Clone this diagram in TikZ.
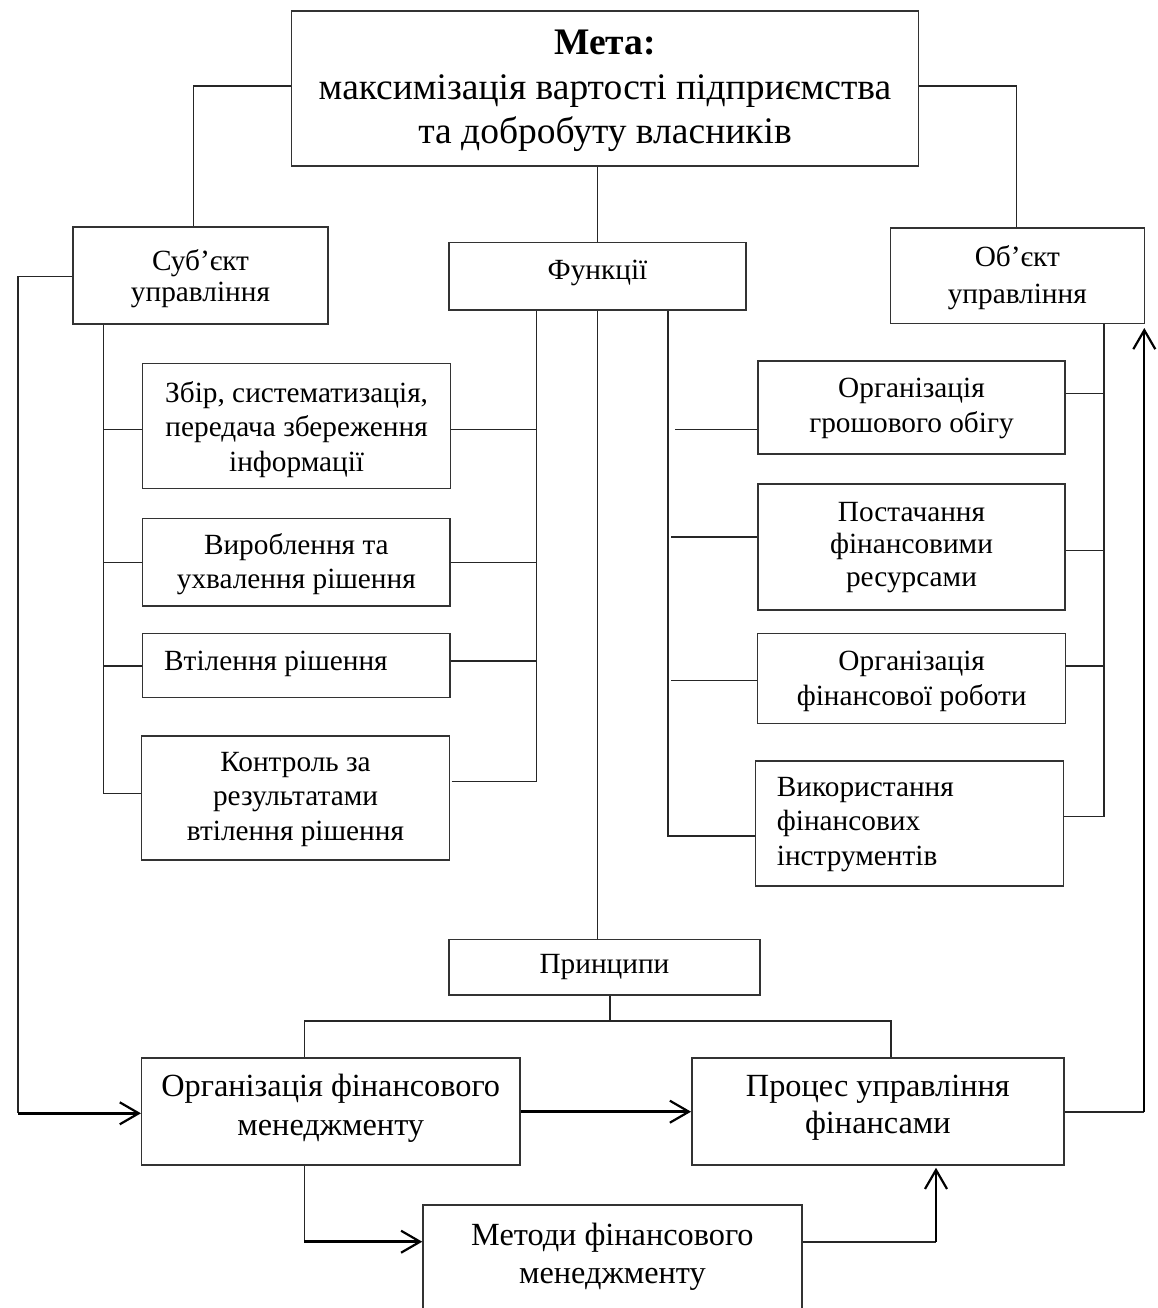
\documentclass[tikz,border=0pt]{standalone}
\usepackage{fontspec}
\setmainfont{Liberation Serif}
\usetikzlibrary{arrows.meta}
\newcommand\fz[2]{\fontsize{#1}{#2}\selectfont}
\begin{document}
\begin{tikzpicture}[x=1pt,y=-1pt,
  box/.style={draw=black!80, line width=1.5pt, inner sep=0pt},
  txt/.style={anchor=base, align=center, inner sep=0pt},
  txtl/.style={anchor=base west, align=left, inner sep=0pt},
  conn/.style={draw=black!85, line width=1.3pt},
  tip/.style={-{Straight Barb[length=19pt,width=22pt,line width=2.2pt]}},
  arr/.style={draw=black, line width=2.6pt, tip},
  arrthin/.style={draw=black, line width=2pt, tip}
]
\useasboundingbox (0,0) rectangle (1157,1308);
% ---------- boxes
\node[box,minimum width=626.6pt,minimum height=155pt] (meta) at (605,88.5) {};
\node[box,minimum width=255pt,minimum height=97pt] (subj) at (200.5,275.5) {};
\node[box,minimum width=297pt,minimum height=67.3pt] (func) at (597.5,276.35) {};
\node[box,minimum width=254pt,minimum height=95.3pt] (obj) at (1017.3,275.65) {};
\node[box,minimum width=307.8pt,minimum height=125pt] (zbir) at (296.6,425.8) {};
\node[box,minimum width=307.3pt,minimum height=87.7pt] (vyr) at (296.35,562.15) {};
\node[box,minimum width=307.3pt,minimum height=64.4pt] (vtil) at (296.35,665.5) {};
\node[box,minimum width=307.6pt,minimum height=124pt] (kontr) at (295.5,798) {};
\node[box,minimum width=307pt,minimum height=93pt] (grosh) at (911.5,407.5) {};
\node[box,minimum width=307pt,minimum height=126pt] (post) at (911.5,547) {};
\node[box,minimum width=308pt,minimum height=90pt] (orgfr) at (911.7,678.3) {};
\node[box,minimum width=307.6pt,minimum height=125pt] (vyk) at (909.5,823.5) {};
\node[box,minimum width=311pt,minimum height=55.7pt] (princ) at (604.5,967.15) {};
\node[box,minimum width=378.1pt,minimum height=107pt] (orgfm) at (330.75,1111.5) {};
\node[box,minimum width=372.1pt,minimum height=107pt] (proc) at (877.85,1111.5) {};
\node[box,minimum width=378.8pt,minimum height=120pt] (metody) at (612.4,1265) {};
% ---------- texts (anchored at the baseline of the last line)
\node[txt,font=\fz{37.5}{44.5}] (meta-t) at (605,144)
  {\textbf{Мета:}\\максимізація вартості підприємства\\та добробуту власників};
\node[txt,font=\fz{29.3}{31.7}] (subj-t) at (200.5,301.7) {Суб’єкт\\управління};
\node[txt,font=\fz{29.3}{36.6}] (obj-t) at (1017.3,303.3) {Об’єкт\\управління};
\node[txt,font=\fz{29.3}{34}] (func-t) at (597.5,279.3) {Функції};
\node[txt,font=\fz{29.3}{34.8}] (zbir-t) at (296.6,471.7) {Збір, систематизація,\\передача збереження\\інформації};
\node[txt,font=\fz{29.3}{34.3}] (vyr-t) at (296.35,588.3) {Вироблення та\\ухвалення рішення};
\node[txtl,font=\fz{29.3}{34}] (vtil-t) at (164,670.7) {Втілення рішення};
\node[txt,font=\fz{29.3}{34.2}] (kontr-t) at (295.5,840) {Контроль за\\результатами\\втілення рішення};
\node[txt,font=\fz{29.3}{34.5}] (grosh-t) at (911.5,432) {Організація\\грошового обігу};
\node[txt,font=\fz{29.3}{32.9}] (post-t) at (911.5,586.8) {Постачання\\фінансовими\\ресурсами};
\node[txt,font=\fz{29.3}{34.3}] (orgfr-t) at (911.7,705) {Організація\\фінансової роботи};
\node[txtl,font=\fz{29.3}{34.2}] (vyk-t) at (776.7,865) {Використання\\фінансових\\інструментів};
\node[txt,font=\fz{29.3}{34}] (princ-t) at (604.5,973) {Принципи};
\node[txt,font=\fz{32.3}{38.3}] (orgfm-t) at (330.75,1135) {Організація фінансового\\менеджменту};
\node[txt,font=\fz{32.3}{36.3}] (proc-t) at (877.85,1133) {Процес управління\\фінансами};
\node[txt,font=\fz{32.3}{38}] (metody-t) at (612.4,1283) {Методи фінансового\\менеджменту};
% ---------- top connectors
\draw[conn] (meta.west |- 0,86) -| (subj.north -| 193.3,0);
\draw[conn] (meta.east |- 0,86) -| (obj.north -| 1016.7,0);
\draw[conn] (meta.south -| 597.7,0) -- (func.north -| 597.7,0);
% ---------- subject branch
\coordinate (lb) at (103.3,793.3);
\draw[conn] (subj.south -| lb) -- (lb);
\draw[conn] (103.3,429.3) -- (zbir.west |- 0,429.3);
\draw[conn] (103.3,562.7) -- (vyr.west |- 0,562.7);
\draw[conn] (103.3,666) -- (vtil.west |- 0,666);
\draw[conn] (lb) -- (kontr.west |- lb);
% ---------- functions, left
\coordinate (fl) at (536.7,781.7);
\draw[conn] (func.south -| fl) -- (fl);
\draw[conn] (zbir.east |- 0,429.3) -- (536.7,429.3);
\draw[conn] (vyr.east |- 0,562.7) -- (536.7,562.7);
\draw[conn] (vtil.east |- 0,661) -- (536.7,661);
\draw[conn] (451.7,781.7) -- (fl);
% ---------- functions, right
\coordinate (fr) at (668,836);
\draw[conn] (func.south -| fr) -- (fr) -- (vyk.west |- fr);
\draw[conn] (675,429.3) -- (grosh.west |- 0,429.3);
\draw[conn] (671,537) -- (post.west |- 0,537);
\draw[conn] (671,680.6) -- (orgfr.west |- 0,680.6);
% ---------- object branch
\coordinate (ob) at (1104,816.5);
\draw[conn] (obj.south -| ob) -- (ob);
\draw[conn] (grosh.east |- 0,393.7) -- (1104,393.7);
\draw[conn] (post.east |- 0,550.5) -- (1104,550.5);
\draw[conn] (orgfr.east |- 0,666) -- (1104,666);
\draw[conn] (vyk.east |- ob) -- (ob);
% ---------- principles
\draw[conn] (func.south -| 597.7,0) -- (princ.north -| 597.7,0);
\coordinate (pj) at (610,1021);
\draw[conn] (princ.south -| pj) -- (pj);
\draw[conn] (orgfm.north -| 304.2,0) |- (pj) -| (proc.north -| 891,0);
% ---------- arrows
\coordinate (lc) at (18,1113.3);
\draw[conn] (subj.west |- 0,276.7) -| (lc);
\draw[arr] (lc) -- (orgfm.west |- lc);
\draw[arr] (orgfm.east |- 0,1111.7) -- (proc.west |- 0,1111.7);
\coordinate (rc) at (1144.3,1111.7);
\coordinate (up) at (1144.3,328);
\draw[conn, line width=2pt] (proc.east |- rc) -- (rc);
\draw[arrthin] (rc) -- (up);
\coordinate (mc) at (304.2,1241.7);
\draw[conn] (orgfm.south -| mc) -- (mc);
\draw[arr] (mc) -- (metody.west |- mc);
\coordinate (mr) at (936,1242);
\draw[conn, line width=2pt] (metody.east |- mr) -- (mr);
\draw[arrthin] (mr) -- ([yshift=-2pt]proc.south -| mr);
\end{tikzpicture}
\end{document}
